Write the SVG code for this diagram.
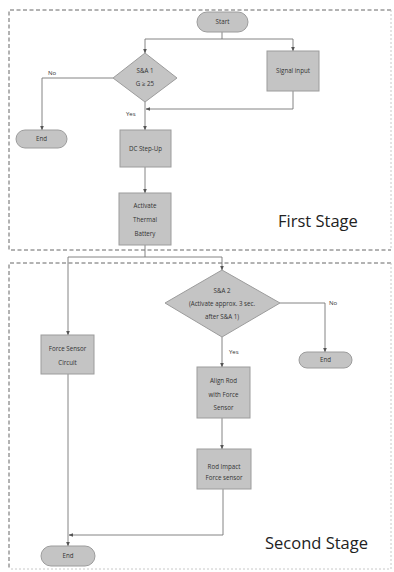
<svg xmlns="http://www.w3.org/2000/svg" width="394" height="572" viewBox="0 0 394 572">
<style>
.node{fill:#c4c4c4;stroke:#9c9c9c;stroke-width:1}
.t{font-family:"Open Sans","DejaVu Sans",sans-serif;font-size:6.2px;fill:#333;text-anchor:middle}
.lbl{font-family:"Open Sans","DejaVu Sans",sans-serif;font-size:6px;fill:#333}
.c{fill:none;stroke:#777;stroke-width:0.9}
.stage{font-family:"Open Sans","DejaVu Sans",sans-serif;font-size:16.5px;fill:#222}
.frame{fill:none;stroke:#666;stroke-width:1;stroke-dasharray:4,2.5}
.frameR{fill:none;stroke:#c8c8c8;stroke-width:1;stroke-dasharray:2,2}
</style>
<defs>
<marker id="a" viewBox="0 0 6 6" refX="5.5" refY="3" markerWidth="5" markerHeight="5" orient="auto">
<path d="M0,0.5 L6,3 L0,5.5 z" fill="#555"/>
</marker>
</defs>
<rect width="394" height="572" fill="#fff"/>
<g id="frames">
<path class="frame" d="M391,10 H9 V250 H391"/>
<path class="frameR" d="M391,10 V250"/>
<path class="frame" d="M391,263 H9 V569"/>
<path class="frameR" d="M391,263 V569 H9"/>
</g>
<g id="connectors">
<path class="c" d="M222,32 V39 H145 V53" marker-end="url(#a)"/>
<path class="c" d="M222,39 H293 V51" marker-end="url(#a)"/>
<path class="c" d="M293,91 V109 H146" marker-end="url(#a)"/>
<path class="c" d="M113,78 H42 V130" marker-end="url(#a)"/>
<path class="c" d="M145,102 V130" marker-end="url(#a)"/>
<path class="c" d="M145,167 V193" marker-end="url(#a)"/>
<path class="c" d="M145,245 V257 H68 V335" marker-end="url(#a)"/>
<path class="c" d="M145,257 H222 V270" marker-end="url(#a)"/>
<path class="c" d="M280,303 H325 V352" marker-end="url(#a)"/>
<path class="c" d="M222,337 V367" marker-end="url(#a)"/>
<path class="c" d="M222,418 V449" marker-end="url(#a)"/>
<path class="c" d="M68,374 V546" marker-end="url(#a)"/>
<path class="c" d="M223,489 V535 H69" marker-end="url(#a)"/>
<text class="lbl" x="48" y="75">No</text>
<text class="lbl" x="126" y="116">Yes</text>
<text class="lbl" x="329" y="305">No</text>
<text class="lbl" x="229" y="354">Yes</text>
</g>
<g id="start">
<rect class="node" x="197" y="12" width="51" height="20" rx="10"/>
<text class="t" x="222.5" y="24.2">Start</text>
</g>
<g id="sa1">
<polygon class="node" points="145,53 177,78 145,102 113,78"/>
<text class="t" x="145" y="73">S&amp;A 1</text>
<text class="t" x="145" y="86">G ≥ 25</text>
</g>
<g id="signal">
<rect class="node" x="267" y="51" width="52" height="40"/>
<text class="t" x="293" y="73">Signal input</text>
</g>
<g id="end1">
<rect class="node" x="16" y="130" width="51" height="18" rx="9"/>
<text class="t" x="41.5" y="141">End</text>
</g>
<g id="dcstep">
<rect class="node" x="120" y="130" width="51" height="37"/>
<text class="t" x="145.5" y="151">DC Step-Up</text>
</g>
<g id="thermal">
<rect class="node" x="119" y="193" width="52" height="52"/>
<text class="t" x="145" y="208">Activate</text>
<text class="t" x="145" y="222">Thermal</text>
<text class="t" x="145" y="236">Battery</text>
</g>
<g id="sa2">
<polygon class="node" points="222,270 280,303 222,337 165,303"/>
<text class="t" x="222" y="293">S&amp;A 2</text>
<text class="t" x="222" y="306">(Activate approx. 3 sec.</text>
<text class="t" x="222" y="319">after S&amp;A 1)</text>
</g>
<g id="force">
<rect class="node" x="41" y="335" width="53" height="39"/>
<text class="t" x="67.5" y="351">Force Sensor</text>
<text class="t" x="67.5" y="365">Circuit</text>
</g>
<g id="end2">
<rect class="node" x="299" y="352" width="53" height="16" rx="8"/>
<text class="t" x="325.5" y="362.2">End</text>
</g>
<g id="align">
<rect class="node" x="197" y="367" width="53" height="51"/>
<text class="t" x="223.5" y="383">Align Rod</text>
<text class="t" x="223.5" y="397">with Force</text>
<text class="t" x="223.5" y="410">Sensor</text>
</g>
<g id="impact">
<rect class="node" x="197" y="449" width="54" height="40"/>
<text class="t" x="224" y="469">Rod Impact</text>
<text class="t" x="224" y="479.5">Force sensor</text>
</g>
<g id="end3">
<rect class="node" x="41" y="546" width="54" height="20" rx="10"/>
<text class="t" x="68" y="558">End</text>
</g>
<text class="stage" x="278" y="227">First Stage</text>
<text class="stage" x="265" y="549">Second Stage</text>
</svg>
